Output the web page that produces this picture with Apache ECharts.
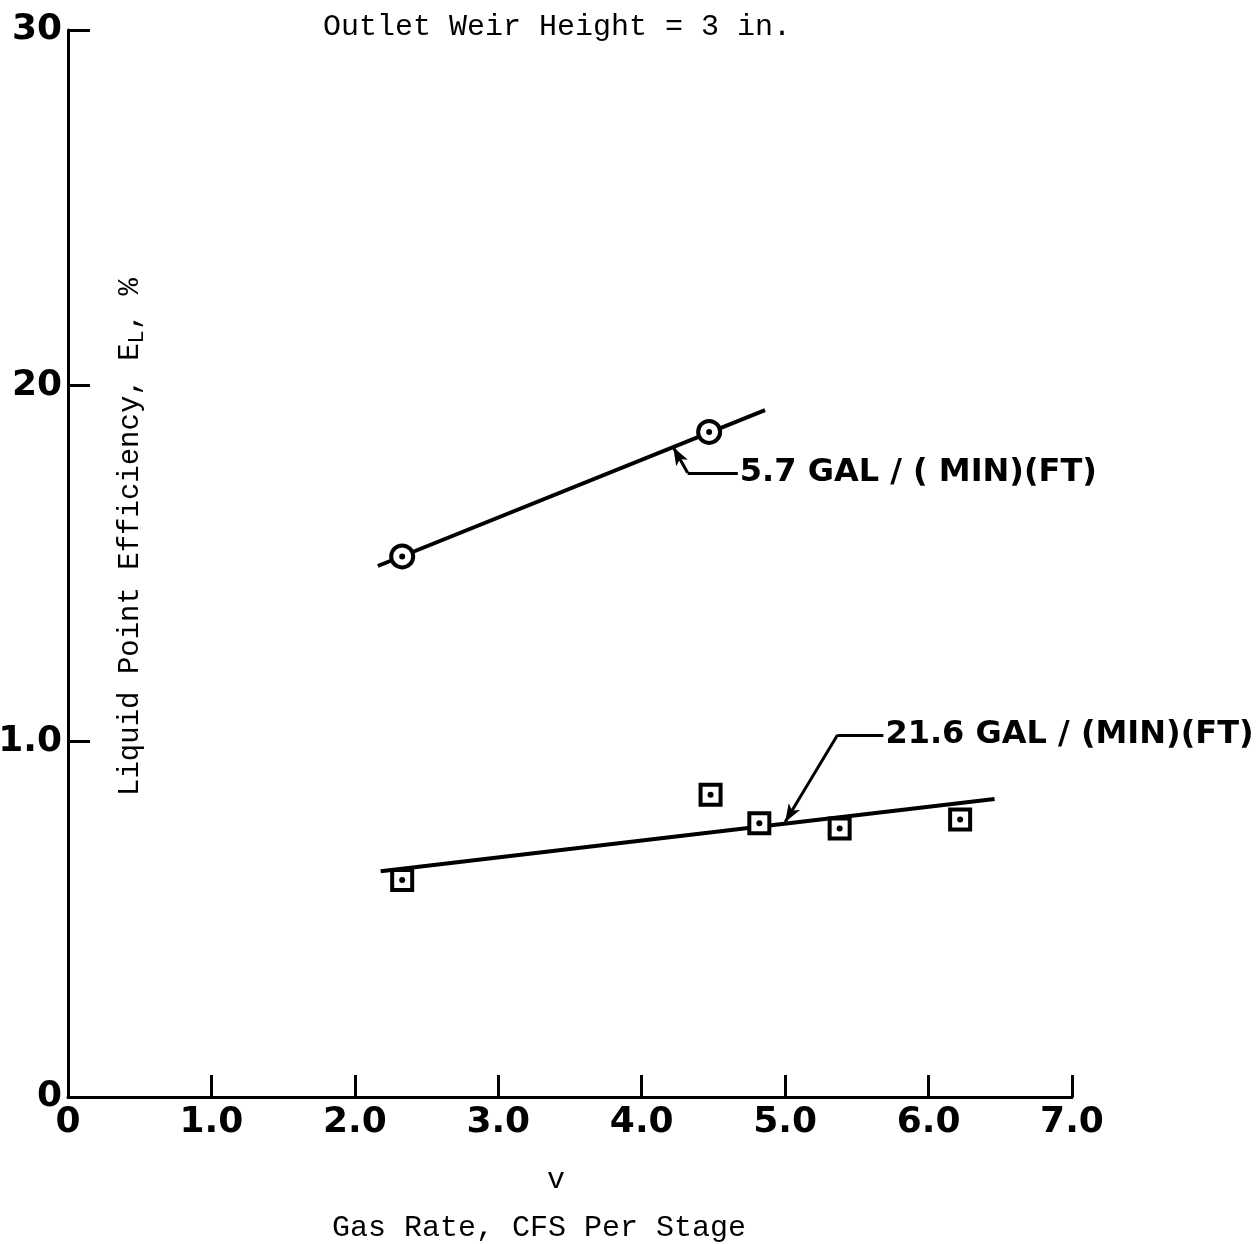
<!DOCTYPE html>
<html>
<head>
<meta charset="utf-8">
<script src="https://cdn.jsdelivr.net/npm/echarts@6/dist/echarts.min.js"></script>
<style>
  html, body { margin: 0; padding: 0; background: #ffffff; }
  #chart { width: 1259px; height: 1244px; }
</style>
</head>
<body>
<div id="chart"></div>
<script>
// Tick labels as printed on the axes
const xTickLabels = ['0', '1.0', '2.0', '3.0', '4.0', '5.0', '6.0', '7.0'];
const yTickLabels = ['0', '1.0', '20', '30'];

// Liquid rate 5.7 gal/(min)(ft): measured points and fitted line
const lowRatePoints = [[2.33, 15.2], [4.47, 18.7]];
const lowRateFit = [[2.16, 14.93], [4.86, 19.31]];

// Liquid rate 21.6 gal/(min)(ft): measured points and fitted line
const highRatePoints = [[2.33, 6.1], [4.48, 8.5], [4.82, 7.7], [5.38, 7.55], [6.22, 7.8]];
const highRateFit = [[2.18, 6.35], [6.46, 8.38]];

// Callouts: label anchor, elbow of the leader, arrow tip on the fitted line
const lowRateCallout = { text: '5.7 GAL / ( MIN)(FT)', label: [4.67, 17.55], elbow: [4.32, 17.55], tip: [4.22, 18.27] };
const highRateCallout = { text: '21.6 GAL / (MIN)(FT)', label: [5.685, 10.18], elbow: [5.365, 10.18], tip: [5.0, 7.73] };

const INK = '#000000';
const monoFont = '"Liberation Mono", "DejaVu Sans Mono", monospace';
const sansFont = '"DejaVu Sans", sans-serif';

function fitLine(data) {
  return {
    type: 'line', data: data, symbol: 'none', z: 2, silent: true,
    lineStyle: { color: INK, width: 4 }
  };
}
function markers(data, shape, size) {
  return {
    type: 'scatter', data: data, symbol: shape, symbolSize: size, z: 3, silent: true,
    itemStyle: { color: '#ffffff', borderColor: INK, borderWidth: 4, opacity: 1 }
  };
}
function centerDots(data) {
  return {
    type: 'scatter', data: data, symbol: 'circle', symbolSize: 6, z: 4, silent: true,
    itemStyle: { color: INK, opacity: 1 }
  };
}
function callout(c) {
  return {
    type: 'scatter', data: [c.label], symbolSize: 0, z: 5, silent: true,
    itemStyle: { opacity: 1 },
    label: {
      show: true, position: 'right', distance: 2, formatter: c.text,
      color: INK, opacity: 1, fontFamily: sansFont, fontWeight: 'bold', fontSize: 32
    },
    markLine: {
      silent: true, symbol: ['none', 'arrow'], symbolSize: [10, 18],
      label: { show: false },
      lineStyle: { color: INK, width: 3, type: 'solid', opacity: 1 },
      data: [
        [{ coord: c.label, symbol: 'none' }, { coord: c.elbow, symbol: 'none' }],
        [{ coord: c.elbow, symbol: 'none' }, { coord: c.tip }]
      ]
    }
  };
}

const axisCommon = {
  type: 'value',
  axisLine: { show: true, onZero: false, lineStyle: { color: INK, width: 3 } },
  axisTick: { show: true, inside: true, length: 22, lineStyle: { color: INK, width: 3 } },
  splitLine: { show: false },
  axisLabel: { color: INK, fontFamily: sansFont, fontWeight: 'bold', fontSize: 36 }
};

const chart = echarts.init(document.getElementById('chart'));
chart.setOption({
  animation: false,
  backgroundColor: '#ffffff',
  grid: { left: 68, right: 187, top: 30, bottom: 147, containLabel: false, outerBoundsMode: 'none' },
  xAxis: Object.assign({}, axisCommon, {
    min: 0, max: 7, interval: 1,
    axisLabel: Object.assign({}, axisCommon.axisLabel, {
      margin: 8,
      formatter: v => xTickLabels[Math.round(v)]
    })
  }),
  yAxis: Object.assign({}, axisCommon, {
    min: 0, max: 30, interval: 10,
    axisLabel: Object.assign({}, axisCommon.axisLabel, {
      margin: 6,
      formatter: v => yTickLabels[Math.round(v / 10)]
    })
  }),
  series: [
    fitLine(lowRateFit),
    fitLine(highRateFit),
    markers(lowRatePoints, 'circle', 22),
    markers(highRatePoints, 'rect', 20),
    centerDots(lowRatePoints),
    centerDots(highRatePoints),
    callout(lowRateCallout),
    callout(highRateCallout)
  ],
  graphic: [
    {
      type: 'text', x: 557, y: 27, silent: true,
      style: { text: 'Outlet Weir Height = 3 in.', fill: INK, font: '30px ' + monoFont, align: 'center', verticalAlign: 'middle' }
    },
    {
      type: 'text', x: 130, y: 537, rotation: Math.PI / 2, silent: true,
      style: {
        text: 'Liquid Point Efficiency, E{sub|L}, %',
        fill: INK, font: '29px ' + monoFont, align: 'center', verticalAlign: 'middle',
        rich: { sub: { fontFamily: monoFont, fontSize: 22, fill: INK, padding: [14, 0, 0, 0] } }
      }
    },
    {
      type: 'text', x: 556, y: 1180, silent: true,
      style: { text: 'v', fill: INK, font: '30px ' + monoFont, align: 'center', verticalAlign: 'middle' }
    },
    {
      type: 'text', x: 539, y: 1228, silent: true,
      style: { text: 'Gas Rate, CFS Per Stage', fill: INK, font: '30px ' + monoFont, align: 'center', verticalAlign: 'middle' }
    }
  ]
});
</script>
</body>
</html>
